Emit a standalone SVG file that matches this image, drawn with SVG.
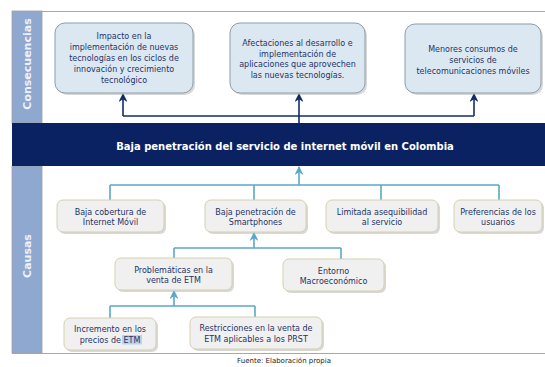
<svg xmlns="http://www.w3.org/2000/svg" width="545" height="367" viewBox="0 0 545 367">
<defs>
<style>
.cons{fill:#dce8f1;stroke:#8d9cab;stroke-width:1}
.cause{fill:#f0f0f0;stroke:#d5d0ae;stroke-width:1}
.shadow{fill:#b8b8b8;opacity:0.55}
.t{font-family:"DejaVu Sans",Verdana,sans-serif;font-size:8px;fill:#1f3366;text-anchor:middle}
.navy{fill:none;stroke:#102c69;stroke-width:1.6}
.blue{fill:none;stroke:#5ba7c9;stroke-width:1.6}
.side{fill:#8fa8cf}
.sidet{font-family:"DejaVu Sans",Verdana,sans-serif;font-size:11px;font-weight:bold;fill:#eef2f9;text-anchor:middle}
</style>
<marker id="an" viewBox="0 0 10 10" refX="9" refY="5" markerWidth="5.5" markerHeight="5.5" orient="auto"><path d="M0 0 L10 5 L0 10 L3 5 Z" fill="#102c69"/></marker>
<marker id="ab" viewBox="0 0 10 10" refX="9" refY="5" markerWidth="5.5" markerHeight="5.5" orient="auto"><path d="M0 0 L10 5 L0 10 L3 5 Z" fill="#5ba7c9"/></marker>
</defs>
<rect x="0" y="0" width="545" height="367" fill="#ffffff"/>
<g id="frame">
<line x1="12" y1="11.5" x2="545" y2="11.5" stroke="#a9a9a9" stroke-width="1"/>
<line x1="12" y1="353.5" x2="545" y2="353.5" stroke="#a9a9a9" stroke-width="1"/>
<rect class="side" x="12" y="11" width="30" height="112" stroke="#a0a0a0" stroke-width="0.8"/>
<rect class="side" x="12" y="166" width="30" height="187" stroke="#a0a0a0" stroke-width="0.8"/>
<text class="sidet" transform="translate(31,64) rotate(-90)">Consecuencias</text>
<text class="sidet" transform="translate(31,256) rotate(-90)">Causas</text>
</g>
<g id="band">
<rect x="12" y="123" width="533" height="43" fill="#0b2262"/>
<text x="285" y="150" font-family="'DejaVu Sans',Verdana,sans-serif" font-size="10" font-weight="bold" fill="#ffffff" text-anchor="middle">Baja penetración del servicio de internet móvil en Colombia</text>
</g>
<g id="connectors">
<path class="navy" d="M299 123 V94" marker-end="url(#an)"/>
<path class="navy" d="M123 116 H474"/>
<path class="navy" d="M123 116 V94" marker-end="url(#an)"/>
<path class="navy" d="M474 116 V94" marker-end="url(#an)"/>
<path class="blue" d="M299 185 V167" marker-end="url(#ab)"/>
<path class="blue" d="M110 185 H499 M110 185 V200 M254 185 V200 M381 185 V200 M499 185 V200"/>
<path class="blue" d="M254 248 V233" marker-end="url(#ab)"/>
<path class="blue" d="M174 248 H341 M174 248 V258 M341 248 V259"/>
<path class="blue" d="M174 306 V291" marker-end="url(#ab)"/>
<path class="blue" d="M110 306 H255 M110 306 V318 M255 306 V317"/>
</g>
<g id="c1">
<rect class="shadow" x="57" y="25" width="138" height="70" rx="10"/>
<rect class="cons" x="55" y="23" width="138" height="70" rx="10"/>
<text class="t"><tspan x="124" y="39">Impacto en la</tspan><tspan x="124" y="50">implementación de nuevas</tspan><tspan x="124" y="61">tecnologías en los ciclos de</tspan><tspan x="124" y="72">innovación y crecimiento</tspan><tspan x="124" y="83">tecnológico</tspan></text>
</g>
<g id="c2">
<rect class="shadow" x="232" y="25" width="135" height="70" rx="10"/>
<rect class="cons" x="230" y="23" width="135" height="70" rx="10"/>
<text class="t"><tspan x="297.5" y="46">Afectaciones al desarrollo e</tspan><tspan x="297.5" y="56.5">implementación de</tspan><tspan x="297.5" y="67">aplicaciones que aprovechen</tspan><tspan x="297.5" y="77.5">las nuevas tecnologías.</tspan></text>
</g>
<g id="c3">
<rect class="shadow" x="407" y="26" width="136" height="69" rx="10"/>
<rect class="cons" x="405" y="24" width="136" height="69" rx="10"/>
<text class="t"><tspan x="473" y="52">Menores consumos de</tspan><tspan x="473" y="63">servicios de</tspan><tspan x="473" y="74">telecomunicaciones móviles</tspan></text>
</g>
<g id="a1">
<rect class="shadow" x="59" y="202" width="107" height="32" rx="6"/>
<rect class="cause" x="57" y="200" width="107" height="32" rx="6"/>
<text class="t"><tspan x="110.5" y="214.5">Baja cobertura de</tspan><tspan x="110.5" y="225">Internet Móvil</tspan></text>
</g>
<g id="a2">
<rect class="shadow" x="207" y="202" width="101" height="32" rx="6"/>
<rect class="cause" x="205" y="200" width="101" height="32" rx="6"/>
<text class="t"><tspan x="255.5" y="214.5">Baja penetración de</tspan><tspan x="255.5" y="225">Smartphones</tspan></text>
</g>
<g id="a3">
<rect class="shadow" x="328" y="202" width="112" height="32" rx="6"/>
<rect class="cause" x="326" y="200" width="112" height="32" rx="6"/>
<text class="t"><tspan x="382" y="214.5">Limitada asequibilidad</tspan><tspan x="382" y="225">al servicio</tspan></text>
</g>
<g id="a4">
<rect class="shadow" x="456" y="202" width="88" height="32" rx="6"/>
<rect class="cause" x="454" y="200" width="88" height="32" rx="6"/>
<text class="t"><tspan x="498" y="214.5">Preferencias de los</tspan><tspan x="498" y="225">usuarios</tspan></text>
</g>
<g id="b1">
<rect class="shadow" x="117" y="260" width="117" height="32" rx="6"/>
<rect class="cause" x="115" y="258" width="117" height="32" rx="6"/>
<text class="t"><tspan x="173.5" y="272.5">Problemáticas en la</tspan><tspan x="173.5" y="283">venta de ETM</tspan></text>
</g>
<g id="b2">
<rect class="shadow" x="285" y="261" width="101" height="32" rx="6"/>
<rect class="cause" x="283" y="259" width="101" height="32" rx="6"/>
<text class="t"><tspan x="333.5" y="273.5">Entorno</tspan><tspan x="333.5" y="284">Macroeconómico</tspan></text>
</g>
<g id="d1">
<rect class="shadow" x="66" y="320" width="92" height="32" rx="6"/>
<rect class="cause" x="64" y="318" width="92" height="32" rx="6"/>
<rect x="122" y="335" width="20" height="9.5" fill="#b8d2ef"/>
<text class="t"><tspan x="110" y="332">Incremento en los</tspan><tspan x="110" y="343">precios de ETM</tspan></text>
</g>
<g id="d2">
<rect class="shadow" x="192" y="319" width="132" height="32" rx="6"/>
<rect class="cause" x="190" y="317" width="132" height="32" rx="6"/>
<text class="t"><tspan x="256" y="331">Restricciones en la venta de</tspan><tspan x="256" y="342">ETM aplicables a los PRST</tspan></text>
</g>
<text x="284" y="363" font-family="'DejaVu Sans',Verdana,sans-serif" font-size="7" fill="#222222" text-anchor="middle">Fuente: Elaboración propia</text>
</svg>
